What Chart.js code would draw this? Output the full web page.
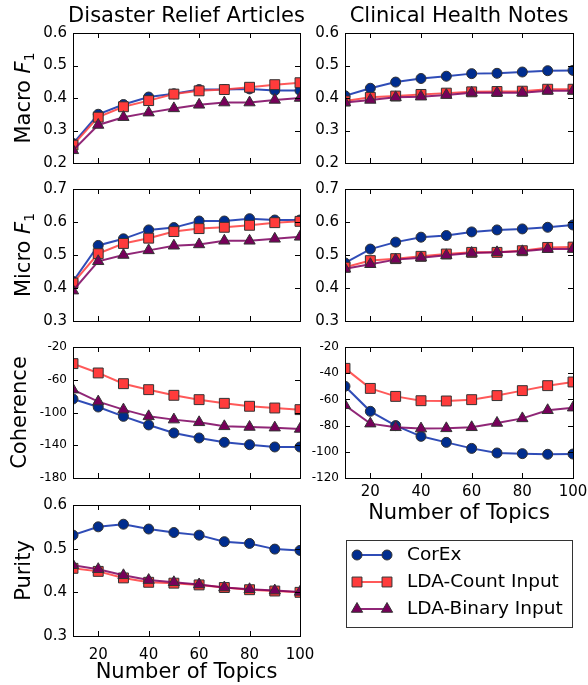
<!DOCTYPE html>
<html>
<head>
<meta charset="utf-8">
<script src="https://cdn.jsdelivr.net/npm/chart.js@4.4.0/dist/chart.umd.min.js"></script>
<style>
  html, body { margin: 0; padding: 0; background: #fff; }
  body { width: 588px; height: 685px; position: relative; overflow: hidden; }
  canvas { position: absolute; }
</style>
</head>
<body>
<canvas id="dMacro"></canvas>
<canvas id="cMacro"></canvas>
<canvas id="dMicro"></canvas>
<canvas id="cMicro"></canvas>
<canvas id="dCoh"></canvas>
<canvas id="cCoh"></canvas>
<canvas id="dPur"></canvas>
<canvas id="legendBox"></canvas>
<script>
// === DATOS ===
const topics = [10, 20, 30, 40, 50, 60, 70, 80, 90, 100];
const topicTicks = [20, 40, 60, 80, 100];
const seriesNames = ["CorEx", "LDA-Count Input", "LDA-Binary Input"];

// Disaster Relief - Macro F1
const dMacroCorex  = [0.260, 0.350, 0.380, 0.403, 0.413, 0.426, 0.426, 0.428, 0.423, 0.423];
const dMacroCount  = [0.255, 0.341, 0.373, 0.392, 0.412, 0.422, 0.426, 0.433, 0.441, 0.447];
const dMacroBinary = [0.239, 0.317, 0.341, 0.355, 0.368, 0.379, 0.386, 0.386, 0.394, 0.400];
// Clinical - Macro F1
const cMacroCorex  = [0.407, 0.430, 0.449, 0.460, 0.467, 0.475, 0.476, 0.480, 0.484, 0.485];
const cMacroCount  = [0.391, 0.402, 0.406, 0.411, 0.415, 0.419, 0.420, 0.421, 0.427, 0.427];
const cMacroBinary = [0.386, 0.394, 0.402, 0.404, 0.409, 0.416, 0.416, 0.416, 0.422, 0.422];
// Disaster Relief - Micro F1
const dMicroCorex  = [0.420, 0.529, 0.549, 0.576, 0.583, 0.603, 0.603, 0.610, 0.606, 0.606];
const dMicroCount  = [0.415, 0.504, 0.535, 0.551, 0.571, 0.580, 0.584, 0.590, 0.598, 0.602];
const dMicroBinary = [0.392, 0.481, 0.500, 0.514, 0.528, 0.532, 0.543, 0.543, 0.549, 0.555];
// Clinical - Micro F1
const cMicroCorex  = [0.476, 0.518, 0.539, 0.554, 0.559, 0.570, 0.576, 0.579, 0.584, 0.591];
const cMicroCount  = [0.463, 0.483, 0.489, 0.496, 0.503, 0.508, 0.508, 0.513, 0.523, 0.524];
const cMicroBinary = [0.458, 0.472, 0.486, 0.492, 0.499, 0.506, 0.508, 0.511, 0.518, 0.518];
// Disaster Relief - Coherence
const dCohCorex  = [-83.5, -93.3, -104.7, -115.2, -125.0, -131.1, -136.4, -139.3, -142.1, -142.1];
const dCohCount  = [-40.3, -51.7, -64.8, -72.1, -79.0, -84.3, -88.8, -92.4, -94.5, -96.5];
const dCohBinary = [-72.1, -86.7, -96.5, -104.7, -108.7, -112.0, -116.9, -117.7, -118.5, -120.1];
// Clinical - Coherence
const cCohCorex  = [-50.0, -69.1, -80.0, -88.2, -92.8, -97.4, -100.9, -101.4, -101.9, -101.7];
const cCohCount  = [-36.3, -51.6, -57.7, -61.0, -61.2, -60.2, -57.1, -53.3, -49.5, -46.7];
const cCohBinary = [-64.5, -78.5, -81.3, -82.3, -82.1, -81.3, -78.0, -74.5, -68.3, -66.3];
// Disaster Relief - Purity
const dPurCorex  = [0.531, 0.550, 0.556, 0.545, 0.537, 0.531, 0.516, 0.512, 0.499, 0.496];
const dPurCount  = [0.455, 0.448, 0.433, 0.423, 0.421, 0.417, 0.411, 0.406, 0.403, 0.400];
const dPurBinary = [0.462, 0.453, 0.439, 0.428, 0.423, 0.418, 0.411, 0.407, 0.404, 0.401];

// Ticks del eje Y
const macroTicks = [0.2, 0.3, 0.4, 0.5, 0.6];
const microTicks = [0.3, 0.4, 0.5, 0.6, 0.7];
const dCohTicks = [-180, -140, -100, -60, -20];
const cCohTicks = [-120, -100, -80, -60, -40, -20];
const purityTicks = [0.3, 0.4, 0.5, 0.6];

// === ESTILOS ===
const FONT = "'DejaVu Sans', sans-serif";
const styles = [
  { line: "rgba(10,45,170,0.85)", fill: "#002d8f", shape: "circle", r: 5 },
  { line: "rgba(255,60,60,0.85)", fill: "#ff3b3b", shape: "rect", r: 7 },
  { line: "rgba(125,0,95,0.85)", fill: "#77005a", shape: "triangle", r: 6.5 },
];

function buildDatasets(series) {
  return series.map((vals, i) => ({
    label: seriesNames[i],
    data: vals.map((v, k) => ({ x: topics[k], y: v })),
    borderColor: styles[i].line,
    borderWidth: 2,
    backgroundColor: styles[i].fill,
    pointBackgroundColor: styles[i].fill,
    pointBorderColor: "#333",
    pointBorderWidth: 1,
    pointStyle: styles[i].shape,
    pointRadius: styles[i].r,
    tension: 0,
    clip: 0,
    order: 3 - i,
  }));
}

// === PLUGIN: marco, ticks internos, títulos ===
const framePlugin = {
  id: "frame",
  afterDraw(chart, args, opts) {
    const ctx = chart.ctx;
    const a = chart.chartArea;
    const xs = chart.scales.x, ys = chart.scales.y;
    ctx.save();
    ctx.strokeStyle = "#000";
    ctx.lineWidth = 1;
    ctx.strokeRect(Math.round(a.left) + 0.5, Math.round(a.top) + 0.5,
                   Math.round(a.right - a.left), Math.round(a.bottom - a.top));
    ctx.beginPath();
    topicTicks.forEach(v => {
      const px = Math.round(xs.getPixelForValue(v)) + 0.5;
      ctx.moveTo(px, a.bottom); ctx.lineTo(px, a.bottom - 5);
      ctx.moveTo(px, a.top); ctx.lineTo(px, a.top + 5);
    });
    opts.yTicks.forEach(v => {
      const py = Math.round(ys.getPixelForValue(v)) + 0.5;
      ctx.moveTo(a.left, py); ctx.lineTo(a.left + 5, py);
      ctx.moveTo(a.right, py); ctx.lineTo(a.right - 5, py);
    });
    ctx.stroke();

    ctx.fillStyle = "#000";
    if (opts.title) {
      ctx.font = "21px " + FONT;
      ctx.textAlign = "center";
      ctx.textBaseline = "middle";
      ctx.fillText(opts.title, (a.left + a.right) / 2, 17 - chart.canvas.offsetTop);
    }
    if (opts.yTitle) {
      const parts = opts.yTitle;
      ctx.translate(opts.yTitleX, (a.top + a.bottom) / 2);
      ctx.rotate(-Math.PI / 2);
      ctx.textAlign = "left";
      ctx.textBaseline = "middle";
      const fontOf = p => p.sub ? "14px " + FONT : (p.italic ? "italic 21px " + FONT : "21px " + FONT);
      let total = 0;
      parts.forEach(p => { ctx.font = fontOf(p); total += ctx.measureText(p.t).width; });
      let x = -total / 2;
      parts.forEach(p => {
        ctx.font = fontOf(p);
        ctx.fillText(p.t, x, p.sub ? 5 : 0);
        x += ctx.measureText(p.t).width;
      });
    }
    ctx.restore();
  },
};

function makePanel(id, c) {
  const el = document.getElementById(id);
  el.width = c.width; el.height = c.height;
  el.style.left = c.left + "px"; el.style.top = c.top + "px";
  const decimals = c.decimals;
  return new Chart(el, {
    type: "line",
    data: { datasets: buildDatasets(c.series) },
    plugins: [framePlugin],
    options: {
      responsive: false,
      animation: false,
      devicePixelRatio: 1,
      layout: { padding: { left: 0, top: c.plot.y0 - c.top, right: c.left + c.width - c.plot.x1, bottom: 0 } },
      plugins: {
        legend: { display: false },
        tooltip: { enabled: false },
        frame: { yTicks: c.yTicks, title: c.title, yTitle: c.yTitle, yTitleX: c.yTitleX },
      },
      scales: {
        x: {
          type: "linear", min: 10, max: 100,
          grid: { display: false, drawTicks: false },
          border: { display: false },
          afterBuildTicks: s => { s.ticks = topicTicks.map(v => ({ value: v })); },
          afterFit: s => {
            s.height = c.top + c.height - c.plot.y1;
            s.paddingLeft = 0; s.paddingRight = 0;
          },
          ticks: { display: !!c.showX, padding: c.xPad || 10, color: "#000", font: { family: FONT, size: 15 }, maxRotation: 0, autoSkip: false },
          title: { display: !!c.showX, text: "Number of Topics", color: "#000", font: { family: FONT, size: 21 }, padding: 0 },
        },
        y: {
          type: "linear", min: c.yTicks[0], max: c.yTicks[c.yTicks.length - 1],
          grid: { display: false, drawTicks: false },
          border: { display: false },
          afterBuildTicks: s => { s.ticks = c.yTicks.map(v => ({ value: v })); },
          afterFit: s => {
            s.width = c.plot.x0 - c.left;
            s.paddingTop = 0; s.paddingBottom = 0;
          },
          ticks: {
            padding: 6, color: "#000", font: { family: FONT, size: c.tickSize || 15 },
            callback: v => v.toFixed(decimals),
          },
        },
      },
    },
  });
}

const macroLabel = [{ t: "Macro " }, { t: "F", italic: true }, { t: "1", sub: true }];
const microLabel = [{ t: "Micro " }, { t: "F", italic: true }, { t: "1", sub: true }];

const L = { x0: 73, x1: 300 }, R = { x0: 345, x1: 573 };

makePanel("dMacro", { left: 0, top: 0, width: 315, height: 175, plot: { ...L, y0: 33, y1: 163 },
  series: [dMacroCorex, dMacroCount, dMacroBinary], yTicks: macroTicks, decimals: 1,
  title: "Disaster Relief Articles", yTitle: macroLabel, yTitleX: 25 });
makePanel("cMacro", { left: 300, top: 0, width: 288, height: 175, plot: { ...R, y0: 33, y1: 163 },
  series: [cMacroCorex, cMacroCount, cMacroBinary], yTicks: macroTicks, decimals: 1,
  title: "Clinical Health Notes" });
makePanel("dMicro", { left: 0, top: 175, width: 315, height: 160, plot: { ...L, y0: 189, y1: 321 },
  series: [dMicroCorex, dMicroCount, dMicroBinary], yTicks: microTicks, decimals: 1,
  yTitle: microLabel, yTitleX: 25 });
makePanel("cMicro", { left: 300, top: 175, width: 288, height: 160, plot: { ...R, y0: 189, y1: 321 },
  series: [cMicroCorex, cMicroCount, cMicroBinary], yTicks: microTicks, decimals: 1 });
makePanel("dCoh", { left: 0, top: 335, width: 315, height: 157, plot: { ...L, y0: 347, y1: 478 },
  series: [dCohCorex, dCohCount, dCohBinary], yTicks: dCohTicks, decimals: 0, tickSize: 12,
  yTitle: [{ t: "Coherence" }], yTitleX: 21 });
makePanel("cCoh", { left: 300, top: 335, width: 288, height: 191, plot: { ...R, y0: 347, y1: 478 },
  series: [cCohCorex, cCohCount, cCohBinary], yTicks: cCohTicks, decimals: 0, tickSize: 12,
  showX: true, xPad: 5 });
makePanel("dPur", { left: 0, top: 492, width: 315, height: 193, plot: { ...L, y0: 505, y1: 636 },
  series: [dPurCorex, dPurCount, dPurBinary], yTicks: purityTicks, decimals: 1,
  yTitle: [{ t: "Purity" }], yTitleX: 25, showX: true, xPad: 10 });

// === LEYENDA ===
const legendPlugin = {
  id: "legendDraw",
  afterDraw(chart) {
    const ctx = chart.ctx;
    ctx.save();
    ctx.strokeStyle = "#333";
    ctx.lineWidth = 1;
    ctx.strokeRect(26.5, 10.5, 226, 87);
    chart.data.datasets.forEach((ds, i) => {
      const y = 25 + i * 27;
      ctx.strokeStyle = ds.borderColor;
      ctx.lineWidth = 2;
      ctx.beginPath(); ctx.moveTo(37, y); ctx.lineTo(67, y); ctx.stroke();
      const opts = { pointStyle: ds.pointStyle, radius: ds.pointRadius, borderWidth: 1, rotation: 0 };
      ctx.fillStyle = ds.pointBackgroundColor;
      ctx.strokeStyle = ds.pointBorderColor;
      ctx.lineWidth = 1;
      Chart.helpers.drawPoint(ctx, opts, 37, y);
      Chart.helpers.drawPoint(ctx, opts, 67, y);
      ctx.fillStyle = "#000";
      ctx.font = "18.5px " + FONT;
      ctx.textAlign = "left";
      ctx.textBaseline = "middle";
      ctx.fillText(ds.label, 87, y);
    });
    ctx.restore();
  },
};

(function () {
  const el = document.getElementById("legendBox");
  el.width = 268; el.height = 120;
  el.style.left = "320px"; el.style.top = "530px";
  new Chart(el, {
    type: "line",
    data: { datasets: buildDatasets([[], [], []]) },
    plugins: [legendPlugin],
    options: {
      responsive: false, animation: false, devicePixelRatio: 1,
      plugins: { legend: { display: false }, tooltip: { enabled: false } },
      scales: { x: { display: false }, y: { display: false } },
    },
  });
})();
</script>
</body>
</html>
